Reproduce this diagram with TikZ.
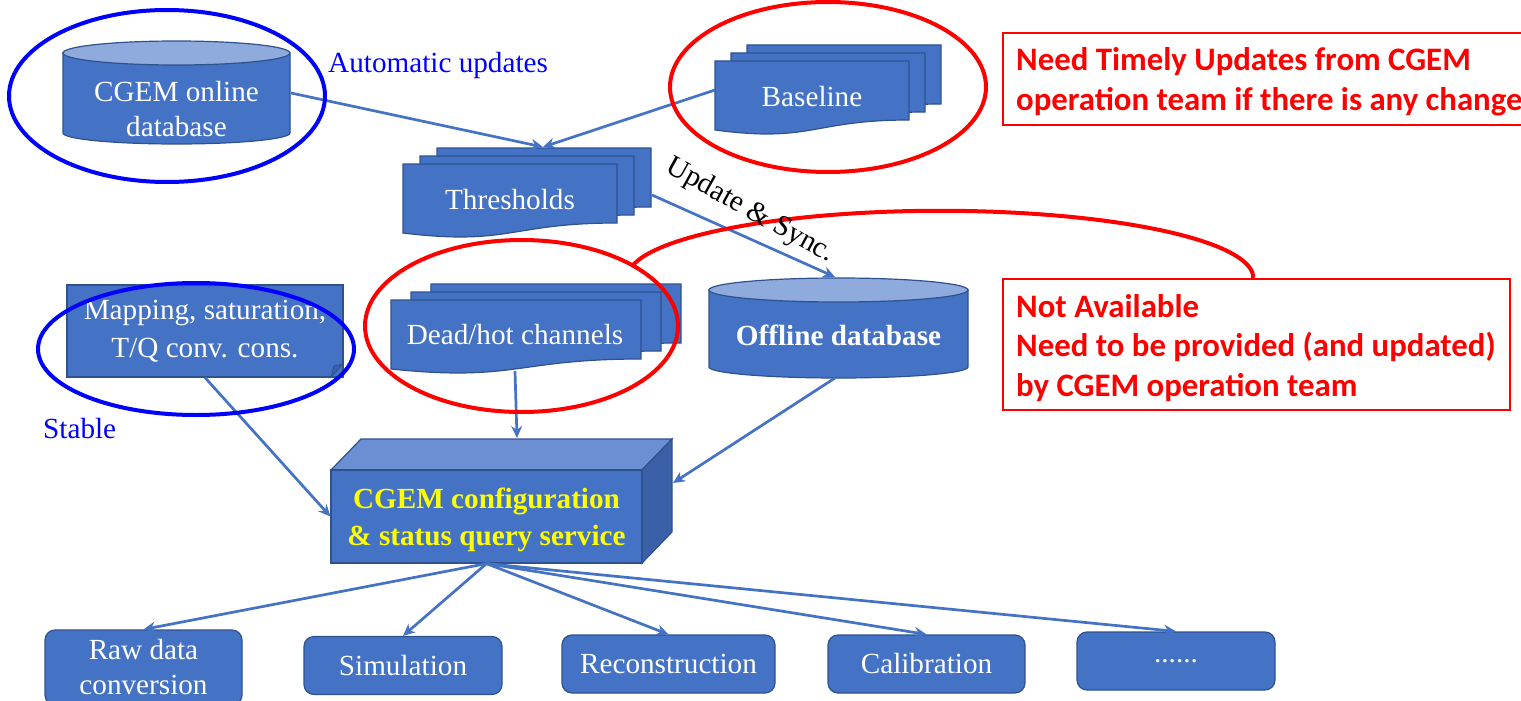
\documentclass[tikz,border=0pt]{standalone}
\usepackage{fontspec}
\setmainfont{Liberation Serif}
\newfontfamily\notefont{Carlito}
\usetikzlibrary{arrows.meta}

\definecolor{boxblue}{HTML}{4472C4}
\definecolor{boxedge}{HTML}{2F528F}
\definecolor{boxlight}{HTML}{8FAADC}
\definecolor{boxtop}{HTML}{6A8FD2}
\definecolor{boxside}{HTML}{3A60A8}
\definecolor{linkblue}{HTML}{4472C4}
\definecolor{markblue}{HTML}{0000FF}
\definecolor{markred}{HTML}{FF0000}
\definecolor{svcyellow}{HTML}{FFFF00}

\newcommand{\bigfont}{\fontsize{29.2}{35}\selectfont}

% stack of three document shapes: front x, front y, width, step
\newcommand{\multidoc}[4]{%
  \foreach \k in {2,1,0} {
    \pgfmathsetmacro{\xa}{#1+\k*#4}
    \pgfmathsetmacro{\ya}{#2-\k*8}
    \pgfmathsetmacro{\xb}{\xa+#3}
    \pgfmathsetmacro{\xm}{\xa+#3/2}
    \draw[docbox] (\xa,\ya) -- (\xb,\ya) -- (\xb,\ya+59)
      .. controls (\xm,\ya+59) and (\xm,\ya+82) .. (\xa,\ya+69) -- cycle;
  }
}

\begin{document}
\begin{tikzpicture}[x=1pt, y=-1pt,
    box/.style={fill=boxblue, draw=boxedge, line width=1.2pt},
    docbox/.style={box},
    lbl/.style={text=white, font=\bigfont, align=center},
    task/.style={box, lbl, rounded corners=10pt, minimum width=197pt, minimum height=58pt},
    link/.style={draw=linkblue, line width=2.7pt, -{Stealth[length=12pt,width=11pt]}},
    markb/.style={draw=markblue, line width=4pt},
    markr/.style={draw=markred, line width=4pt},
    notebox/.style={draw=markred, line width=1.5pt},
    notetext/.style={text=markred, font=\notefont\bfseries\fontsize{32.8}{39.5}\selectfont,
      align=left, anchor=west, inner sep=0pt}]
    \useasboundingbox (0,0) rectangle (1521,701);

    % online database
    \draw[box] (63,53) -- (63,133) arc[start angle=180, end angle=360, x radius=113.5pt, y radius=11pt] -- (290,53) -- cycle;
    \draw[box, fill=boxlight] (176.5,53) ellipse[x radius=113.5pt, y radius=12pt];
    \node[lbl] (onl) at (176.5,109) {CGEM online\\database};

    % offline database
    \draw[box] (709,290) -- (709,367) arc[start angle=180, end angle=360, x radius=129.5pt, y radius=11pt] -- (968,290) -- cycle;
    \draw[box, fill=boxlight] (838.5,290) ellipse[x radius=129.5pt, y radius=12pt];
    \node[lbl, font=\bigfont\bfseries] (off) at (838.5,335) {Offline database};

    % document stacks
    \multidoc{715}{61}{194}{16}
    \node[lbl] (base) at (812,97) {Baseline};
    \multidoc{403}{164}{214}{17}
    \node[lbl] (thr) at (510,200) {Thresholds};
    \multidoc{391}{300}{250}{20}
    \node[lbl] (dead) at (515,335) {Dead/hot channels};

    % mapping box
    \node[box, lbl, font=\fontsize{29.2}{38}\selectfont, minimum width=276pt, minimum height=92pt] (map) at (205,331) {Mapping, saturation,\\T/Q conv. cons.};
    \filldraw[fill=boxside, draw=boxedge, line width=0.8pt] (331,377) -- (334,366) -- (343,364) -- cycle;

    % query service
    \filldraw[fill=boxtop, draw=boxedge, line width=1.2pt] (331,470) -- (361,439) -- (672,439) -- (642,470) -- cycle; % top
    \filldraw[fill=boxside, draw=boxedge, line width=1.2pt] (642,470) -- (672,439) -- (672,532) -- (642,563) -- cycle; % side
    \node[box, minimum width=311pt, minimum height=93pt] (svc) at (486.5,516.5) {};
    \node[text=svcyellow, font=\fontsize{29.2}{37}\selectfont\bfseries, align=center] (svctxt) at (486.5,520) {CGEM configuration\\\& status query service};

    % users of the service
    \node[task, minimum height=75pt] (raw) at (143.5,667.5) {Raw data\\conversion};
    \node[task, minimum width=198pt] (sim) at (403,665.5) {Simulation};
    \node[task, minimum width=213pt] (rec) at (668.5,664) {Reconstruction};
    \node[task] (cal) at (926.5,664) {Calibration};
    \node[task, minimum width=198pt] (more) at (1176,661) {......};

    % connectors
    \coordinate (onl out) at (291,93);
    \coordinate (base out) at (715,90);
    \coordinate (thr in) at (543,147);
    \coordinate (thr out) at (652,195);
    \coordinate (off in) at (835,277);
    \coordinate (off out) at (835,378);
    \coordinate (dead out) at (515,371);
    \coordinate (svc top) at (517,438);
    \coordinate (svc side) at (673,483);

    \draw[link] (onl out) -- (thr in);
    \draw[link] (base out) -- (thr in);
    \draw[link] (thr out) -- (off in);
    \draw[link] (dead out) -- (svc top);
    \draw[link] (map.south) -- (svc.west);
    \draw[link] (off out) -- (svc side);
    \foreach \t in {raw,sim,rec,cal,more}
        \draw[link] (svc.south) -- (\t.north);

    % marks
    \draw[markb] (167,96) ellipse[x radius=158pt, y radius=86pt];
    \draw[markb] (196,349) ellipse[x radius=158pt, y radius=66pt];
    \draw[markr] (828,87) ellipse[x radius=158pt, y radius=85pt];
    \draw[markr] (521.5,326) ellipse[x radius=156.5pt, y radius=86pt];
    \draw[markr] (633,265) arc[start angle=169, end angle=0, x radius=313pt, y radius=67pt];

    \node[anchor=west, inner sep=0pt, text=markblue, font=\bigfont] (auto) at (328,65) {Automatic updates};
    \node[anchor=west, inner sep=0pt, text=markblue, font=\bigfont] (stab) at (43,429) {Stable};
    \node[inner sep=0pt, font=\bigfont, rotate=-29] (sync) at (750,211) {Update \& Sync.};

    % notes
    \draw[notebox] (1003,33) rectangle (1540,125);
    \node[notetext] (upd) at (1016,82) {Need Timely Updates from CGEM\\operation team if there is any change};
    \draw[notebox] (1003,279) rectangle (1510,410);
    \node[notetext] (avail) at (1016,348) {Not Available\\Need to be provided (and updated)\\by CGEM operation team};
\end{tikzpicture}
\end{document}
